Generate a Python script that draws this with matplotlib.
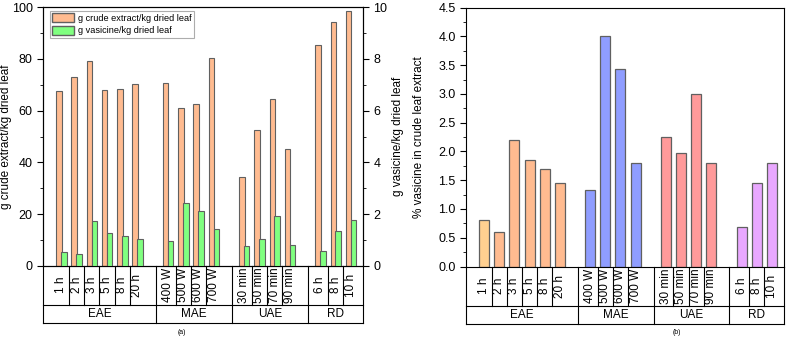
import matplotlib
matplotlib.use("Agg")
import matplotlib.pyplot as plt
from matplotlib.patches import Patch
import numpy as np

plt.rcParams['font.family'] = ['Liberation Sans', 'DejaVu Sans']

groups = ["EAE", "MAE", "UAE", "RD"]
group_labels = [
    ["1 h", "2 h", "3 h", "5 h", "8 h", "20 h"],
    ["400 W", "500 W", "600 W", "700 W"],
    ["30 min", "50 min", "70 min", "90 min"],
    ["6 h", "8 h", "10 h"],
]
crude_extract = [67.7, 73.0, 79.3, 67.9, 68.3, 70.2,
                 70.6, 60.9, 62.5, 80.3,
                 34.2, 52.4, 64.6, 45.3,
                 85.3, 94.2, 98.4]
vasicine_g = [0.54, 0.44, 1.74, 1.25, 1.15, 1.02,
              0.94, 2.44, 2.13, 1.43,
              0.76, 1.02, 1.94, 0.80,
              0.58, 1.35, 1.76]
vasicine_pct = [0.80, 0.60, 2.20, 1.86, 1.70, 1.46,
                1.33, 4.00, 3.44, 1.80,
                2.26, 1.97, 3.00, 1.80,
                0.68, 1.46, 1.80]

group_colors = ["#FFBB90", "#8F9DFF", "#FF9A9A", "#E9A8FF"]
first_color = "#FFD090"
edge = "#606060"

# positions with a one-slot gap between groups
pos = []
bounds = []
p = 0
for gi, labs in enumerate(group_labels):
    start = p
    for _ in labs:
        pos.append(p)
        p += 1
    bounds.append((start, p - 1))
    p += 1
pos = np.array(pos, dtype=float)
labels = [l for labs in group_labels for l in labs]
XL = (-1.2, 19.8)

fig = plt.figure(figsize=(7.89, 3.37), dpi=100)
W, H = 789, 337


def add_table(ax):
    x0, x1 = XL
    def ax_x(v):
        return (v - x0) / (x1 - x0)
    r1 = -39 / 258.5
    r2 = -57 / 258.5
    trans = ax.transAxes
    kw = dict(color="black", lw=0.8, transform=trans, clip_on=False)
    ax.plot([0, 0], [0, r2], **kw)
    ax.plot([1, 1], [0, r2], **kw)
    ax.plot([0, 1], [r1, r1], **kw)
    ax.plot([0, 1], [r2, r2], **kw)
    gb = []
    for gi in range(len(bounds) - 1):
        gb.append(bounds[gi][1] + 1.2)
    for b in gb:
        ax.plot([ax_x(b)] * 2, [0, r2], **kw)
    for (s, e) in bounds:
        for k in range(s, e):
            ax.plot([ax_x(k + 0.5)] * 2, [0, r1], **kw)
    for x, lab in zip(pos, labels):
        ax.text(ax_x(x), r1 / 2, lab, rotation=90, ha="center", va="center",
                fontsize=8.5, transform=trans)
    edges = [x0] + gb + [x1]
    for gi, g in enumerate(groups):
        c = (ax_x(edges[gi]) + ax_x(edges[gi + 1])) / 2
        ax.text(c, (r1 + r2) / 2, g, ha="center", va="center",
                fontsize=8.5, transform=trans)


# ---------- panel (a) ----------
ax1 = fig.add_axes([43 / W, 1 - 265.7 / H, (363 - 43) / W, 258.4 / H])
ax2 = ax1.twinx()
bw = 0.36
ax1.bar(pos - 0.15, crude_extract, width=bw, color="#FFBB90", edgecolor=edge,
        linewidth=0.8, zorder=2)
ax2.bar(pos + 0.17, vasicine_g, width=bw, color="#80FF80", edgecolor=edge,
        linewidth=0.8, zorder=3)
ax1.set_xlim(XL)
ax1.set_ylim(0, 100)
ax2.set_ylim(0, 10)
ax1.set_xticks([])
ax1.set_yticks(np.arange(0, 101, 20))
ax1.set_yticks(np.arange(10, 100, 20), minor=True)
ax2.set_yticks(np.arange(0, 11, 2))
ax2.set_yticks(np.arange(1, 10, 2), minor=True)
for a in (ax1, ax2):
    a.tick_params(axis="y", which="major", direction="out", length=4, labelsize=9)
    a.tick_params(axis="y", which="minor", direction="out", length=2.5)
ax1.set_ylabel("g crude extract/kg dried leaf", fontsize=8.5)
ax1.yaxis.set_label_coords((12 - 43) / 320, 0.5)
ax2.set_ylabel("g vasicine/kg dried leaf", fontsize=8.5)
ax2.yaxis.set_label_coords((392 - 43) / 320, 0.5)
leg = ax1.legend(handles=[Patch(facecolor="#FFBB90", edgecolor=edge, label="g crude extract/kg dried leaf"),
                          Patch(facecolor="#80FF80", edgecolor=edge, label="g vasicine/kg dried leaf")],
                 loc="upper left", bbox_to_anchor=(0.022, 0.985), fontsize=6.6, frameon=True,
                 fancybox=False, edgecolor="#999999", borderpad=0.25, labelspacing=0.3,
                 handlelength=2.4, handleheight=1.1, handletextpad=0.4, borderaxespad=0)
leg.get_frame().set_linewidth(0.8)
add_table(ax1)
fig.text(182 / W, 1 - 333 / H, "(a)", fontsize=5, ha="center", va="center")

# ---------- panel (b) ----------
ax3 = fig.add_axes([466 / W, 1 - 266.5 / H, (784 - 466) / W, 258.8 / H])
colors = []
for gi, labs in enumerate(group_labels):
    colors += [group_colors[gi]] * len(labs)
colors[0] = first_color
ax3.bar(pos, vasicine_pct, width=0.66, color=colors, edgecolor=edge,
        linewidth=0.9, zorder=2)
ax3.set_xlim(XL)
ax3.set_ylim(0, 4.5)
ax3.set_xticks([])
ax3.set_yticks(np.arange(0, 4.51, 0.5))
ax3.set_yticks(np.arange(0.25, 4.5, 0.5), minor=True)
ax3.yaxis.set_major_formatter(matplotlib.ticker.FormatStrFormatter("%.1f"))
ax3.tick_params(axis="y", which="major", direction="out", length=4, labelsize=9)
ax3.tick_params(axis="y", which="minor", direction="out", length=2.5)
ax3.set_ylabel("% vasicine in crude leaf extract", fontsize=8.5)
ax3.yaxis.set_label_coords((425 - 466) / 318, 0.5)
add_table(ax3)
fig.text(677 / W, 1 - 333 / H, "(b)", fontsize=5, ha="center", va="center")

fig.savefig("out.png", dpi=100)
